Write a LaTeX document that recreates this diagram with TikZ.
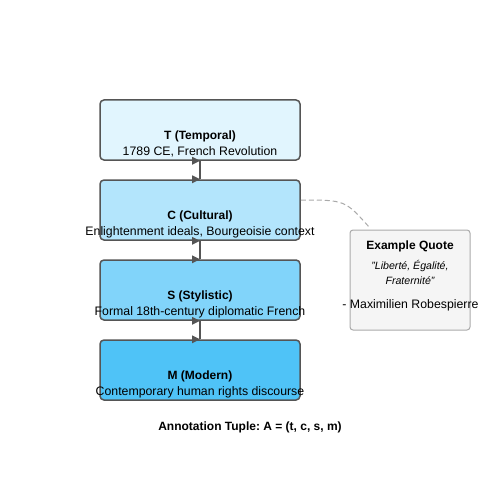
\documentclass[tikz,border=0pt]{standalone}
\usepackage{fontspec}
\setmainfont{Liberation Sans}
\usetikzlibrary{calc}
\definecolor{boxline}{HTML}{555555}
\definecolor{tfill}{HTML}{E1F5FE}
\definecolor{cfill}{HTML}{B3E5FC}
\definecolor{sfill}{HTML}{81D4FA}
\definecolor{mfill}{HTML}{4FC3F7}
\definecolor{quotefill}{HTML}{F5F5F5}
\definecolor{quoteline}{HTML}{AAAAAA}
\frenchspacing
\def\marker(#1){\fill[boxline] ($(#1)+(0,0)$) -- ++(-8,4) -- ++(0,-8) -- cycle;}
\tikzset{
  layer/.style={draw=boxline, rounded corners=4pt, line width=1.5pt,
    minimum width=200pt, minimum height=60pt, inner sep=0pt},
  title/.style={font=\bfseries\fontsize{12}{14}\selectfont, inner sep=0pt},
  sub/.style={font=\fontsize{12.3}{14}\selectfont, inner sep=0pt},
  quoted/.style={font=\itshape\fontsize{10.6}{12}\selectfont, inner sep=0pt},
  link/.style={draw=boxline, line width=2pt}
}
\begin{document}
\begin{tikzpicture}[x=1pt,y=-1pt]
			%%%%% FRAME %%%%%
			\useasboundingbox (0,0) rectangle (500,500);
			
			%%%%% LAYERS %%%%%
			\node[layer, fill=tfill] (T) at (200,130) {};
			\node[title] (Ttitle) at ($(T.center)+(0,6.8)$) {T (Temporal)};
			\node[sub] (Tsub) at ($(T.center)+(0,22.3)$) {1789 CE, French Revolution};
			
			\node[layer, fill=cfill] (C) at (200,210) {};
			\node[title] (Ctitle) at ($(C.center)+(0,6.8)$) {C (Cultural)};
			\node[sub] (Csub) at ($(C.center)+(0,22.3)$) {Enlightenment ideals, Bourgeoisie context};
			
			\node[layer, fill=sfill] (S) at (200,290) {};
			\node[title] (Stitle) at ($(S.center)+(0,6.8)$) {S (Stylistic)};
			\node[sub] (Ssub) at ($(S.center)+(0,22.3)$) {Formal 18th-century diplomatic French};
			
			\node[layer, fill=mfill] (M) at (200,370) {};
			\node[title] (Mtitle) at ($(M.center)+(0,6.8)$) {M (Modern)};
			\node[sub] (Msub) at ($(M.center)+(0,22.3)$) {Contemporary human rights discourse};
			
			%%%%% LINKS %%%%%
			\draw[link] (T.south) -- (C.north);
			\marker(T.south) \marker(C.north)
			\draw[link] (C.south) -- (S.north);
			\marker(C.south) \marker(S.north)
			\draw[link] (S.south) -- (M.north);
			\marker(S.south) \marker(M.north)
			
			%%%%% QUOTE %%%%%
			\node[draw=quoteline, fill=quotefill, rounded corners=3pt, line width=1pt,
			  minimum width=120pt, minimum height=100pt] (Q) at (410,280) {};
			\node[title] (Qtitle) at ($(Q.north)+(0,16.5)$) {Example Quote};
			\node[quoted] (Qline1) at ($(Q.north)+(0,36.5)$) {"Liberté, Égalité,};
			\node[quoted] (Qline2) at ($(Q.north)+(0,51.5)$) {Fraternité"};
			\node[sub] (Qby) at ($(Q.north)+(0.5,76)$) {- Maximilien Robespierre};
			
			\coordinate (Cout) at ($(C.east)+(0,-10)$);
			\coordinate (Qin) at ($(Q.north west)+(20,-2)$);
			\draw[quoteline, dashed, line width=1pt, dash pattern=on 5pt off 3pt] (Cout) .. controls (345,200) .. (Qin);
			
			%%%%% TUPLE %%%%%
			\node[title] (tuple) at (250,427.2) {Annotation Tuple: A = (t, c, s, m)};
		\end{tikzpicture}
\end{document}
